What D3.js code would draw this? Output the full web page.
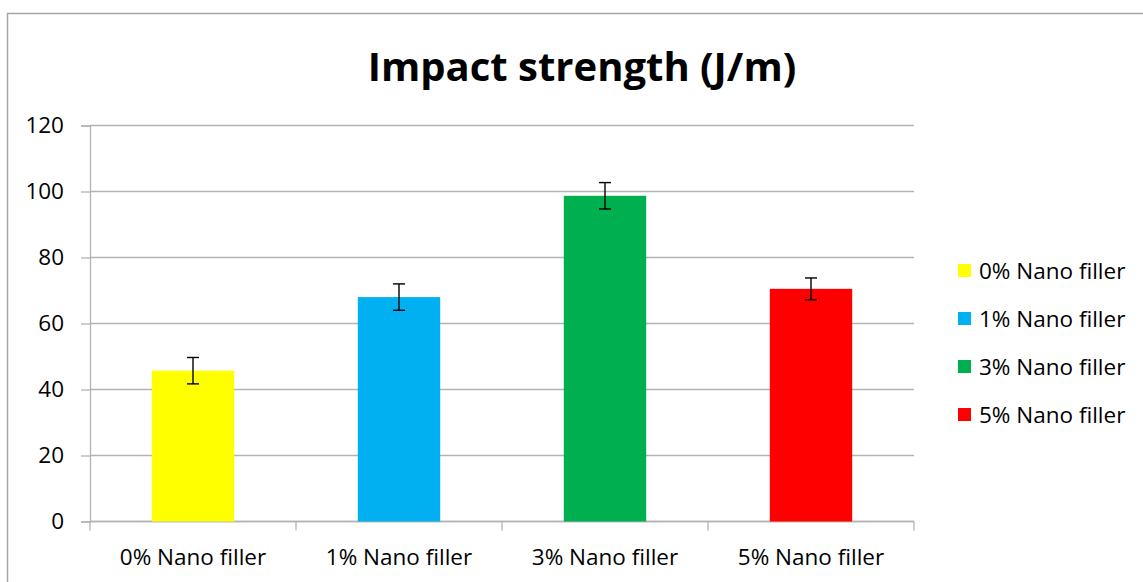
<!DOCTYPE html>
<html>
<head>
<meta charset="utf-8">
<script src="https://cdn.jsdelivr.net/npm/d3@7"></script>
<style>
  body { margin: 0; background: #fff; }
  text { font-family: "Open Sans", sans-serif; fill: #000; }
</style>
</head>
<body>
<div id="chart"></div>
<script>
// data
const categories = ["0% Nano filler", "1% Nano filler", "3% Nano filler", "5% Nano filler"];
const values = [45.7, 68.0, 98.7, 70.5];
const errors = [4.0, 4.0, 4.0, 3.3];
const colors = ["#ffff00", "#00b0f0", "#00b050", "#ff0000"];
const yTicks = [0, 20, 40, 60, 80, 100, 120];

const width = 1143, height = 582;
const margin = { left: 90, right: 229, top: 125.5, bottom: 60.5 };
const labelSize = 22.5;

const svg = d3.select("#chart").append("svg")
    .attr("width", width)
    .attr("height", height);

// chart frame
svg.append("rect")
    .attr("x", 7.5).attr("y", 13.5)
    .attr("width", width).attr("height", height)
    .attr("fill", "none")
    .attr("stroke", "#a6a6a6")
    .attr("stroke-width", 1.5);

const x = d3.scaleBand()
    .domain(categories)
    .range([margin.left, width - margin.right])
    .paddingInner(0.6)
    .paddingOuter(0.3);

const y = d3.scaleLinear()
    .domain([0, 120])
    .range([height - margin.bottom, margin.top]);

// gridlines
svg.append("g")
    .selectAll("line")
    .data(yTicks)
    .join("line")
    .attr("x1", margin.left)
    .attr("x2", width - margin.right)
    .attr("y1", d => y(d))
    .attr("y2", d => y(d))
    .attr("stroke", "#b3b3b3")
    .attr("stroke-width", 1.3);

// y axis
const yAxis = svg.append("g")
    .attr("transform", `translate(${margin.left},0)`)
    .call(d3.axisLeft(y).tickValues(yTicks).tickSize(9).tickPadding(17));
yAxis.select(".domain").attr("stroke", "#b3b3b3").attr("stroke-width", 1.3);
yAxis.selectAll(".tick line").attr("stroke", "#b3b3b3").attr("stroke-width", 1.3);
yAxis.selectAll(".tick text")
    .attr("font-size", labelSize)
    .attr("font-family", "Open Sans, sans-serif")
    .attr("fill", "#000");

// x axis: ticks at band boundaries
const step = x.step();
const bounds = d3.range(categories.length + 1).map(i => margin.left + i * step);
svg.append("line")
    .attr("x1", margin.left).attr("x2", width - margin.right)
    .attr("y1", y(0)).attr("y2", y(0))
    .attr("stroke", "#b3b3b3").attr("stroke-width", 1.3);
svg.append("g")
    .selectAll("line")
    .data(bounds)
    .join("line")
    .attr("x1", d => d).attr("x2", d => d)
    .attr("y1", y(0)).attr("y2", y(0) + 9)
    .attr("stroke", "#b3b3b3").attr("stroke-width", 1.3);

svg.append("g")
    .selectAll("text")
    .data(categories)
    .join("text")
    .attr("x", d => x(d) + x.bandwidth() / 2)
    .attr("y", 565)
    .attr("text-anchor", "middle")
    .attr("font-size", labelSize)
    .text(d => d);

// bars
svg.append("g")
    .selectAll("rect")
    .data(values)
    .join("rect")
    .attr("x", (d, i) => x(categories[i]))
    .attr("y", d => y(d))
    .attr("width", x.bandwidth())
    .attr("height", d => y(0) - y(d))
    .attr("fill", (d, i) => colors[i]);

// error bars
const eb = svg.append("g")
    .attr("stroke", "#000")
    .attr("stroke-width", 1.4)
    .selectAll("g")
    .data(values)
    .join("g");
eb.append("line")
    .attr("x1", (d, i) => x(categories[i]) + x.bandwidth() / 2)
    .attr("x2", (d, i) => x(categories[i]) + x.bandwidth() / 2)
    .attr("y1", (d, i) => y(d + errors[i]))
    .attr("y2", (d, i) => y(d - errors[i]));
eb.append("line")
    .attr("x1", (d, i) => x(categories[i]) + x.bandwidth() / 2 - 6)
    .attr("x2", (d, i) => x(categories[i]) + x.bandwidth() / 2 + 6)
    .attr("y1", (d, i) => y(d + errors[i]))
    .attr("y2", (d, i) => y(d + errors[i]));
eb.append("line")
    .attr("x1", (d, i) => x(categories[i]) + x.bandwidth() / 2 - 6)
    .attr("x2", (d, i) => x(categories[i]) + x.bandwidth() / 2 + 6)
    .attr("y1", (d, i) => y(d - errors[i]))
    .attr("y2", (d, i) => y(d - errors[i]));

// title
svg.append("text")
    .attr("x", 582)
    .attr("y", 81)
    .attr("text-anchor", "middle")
    .attr("font-size", 40)
    .attr("font-weight", "bold")
    .text("Impact strength (J/m)");

// legend
const legend = svg.append("g")
    .selectAll("g")
    .data(categories)
    .join("g")
    .attr("transform", (d, i) => `translate(958,${271 + i * 48})`);
legend.append("rect")
    .attr("x", 0).attr("y", -7)
    .attr("width", 13).attr("height", 13)
    .attr("fill", (d, i) => colors[i]);
legend.append("text")
    .attr("x", 21)
    .attr("y", 0)
    .attr("dy", "0.35em")
    .attr("font-size", labelSize)
    .text(d => d);
</script>
</body>
</html>
